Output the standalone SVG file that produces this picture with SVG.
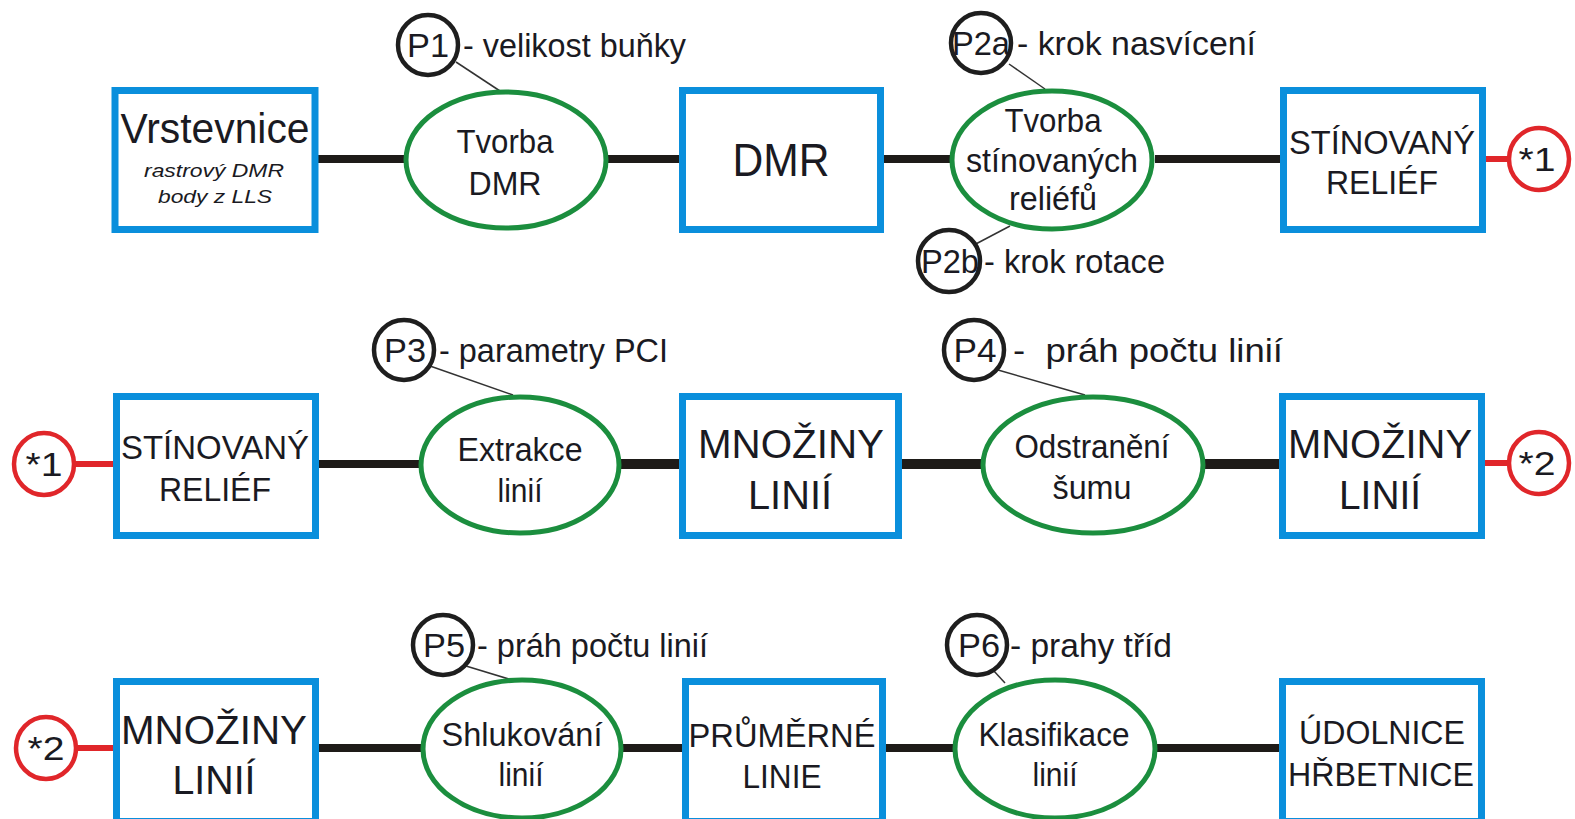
<svg xmlns="http://www.w3.org/2000/svg" width="1575" height="819" viewBox="0 0 1575 819">
<style>
.box{fill:#fff;stroke:#0a8fdc;stroke-width:7}
.proc{fill:#fff;stroke:#1b8e3e;stroke-width:5}
.par{fill:#fff;stroke:#1e1e1e;stroke-width:4.5}
.ref{fill:#fff;stroke:#e0262a;stroke-width:4.5}
.flow{stroke:#1e1b18;stroke-width:8;fill:none}
.flowb{stroke:#1e1b18;stroke-width:10;fill:none}
.lead{stroke:#333;stroke-width:1.5;fill:none}
.red{stroke:#e0262a;stroke-width:6;fill:none}
text{font-family:"Liberation Sans",Arial,sans-serif;fill:#1a1a22;text-anchor:middle}
.t46{font-size:46px}
.t42{font-size:43px}
.t40{font-size:41px}
.t34{font-size:34px}
.tc{font-size:34px}
.ti{font-size:18px;font-style:italic}
.pl{font-size:34px}
.pd{font-size:34px;text-anchor:start}
</style>
<rect width="1575" height="819" fill="#fff"/>
<g id="connectors">
<line class="flow" x1="318" y1="159" x2="404" y2="159"/>
<line class="flow" x1="606" y1="159" x2="680" y2="159"/>
<line class="flow" x1="884" y1="159" x2="951" y2="159"/>
<line class="flow" x1="1155" y1="159" x2="1281" y2="159"/>
<line class="red" x1="1486" y1="159" x2="1509" y2="159"/>
<line class="lead" x1="456" y1="62" x2="500" y2="91"/>
<line class="lead" x1="1009" y1="64" x2="1045" y2="89"/>
<line class="lead" x1="1010" y1="226" x2="972" y2="246"/>
<line class="red" x1="73" y1="464" x2="114" y2="464"/>
<line class="flow" x1="318" y1="464" x2="419" y2="464"/>
<line class="flowb" x1="620" y1="464" x2="680" y2="464"/>
<line class="flowb" x1="902" y1="464" x2="981" y2="464"/>
<line class="flowb" x1="1204" y1="464" x2="1280" y2="464"/>
<line class="red" x1="1485" y1="463" x2="1509" y2="463"/>
<line class="lead" x1="430" y1="366" x2="513" y2="395"/>
<line class="lead" x1="998" y1="370" x2="1085" y2="395"/>
<line class="red" x1="76" y1="748" x2="114" y2="748"/>
<line class="flow" x1="318" y1="748" x2="421" y2="748"/>
<line class="flow" x1="622" y1="748" x2="683" y2="748"/>
<line class="flow" x1="886" y1="748" x2="953" y2="748"/>
<line class="flow" x1="1156" y1="748" x2="1280" y2="748"/>
<line class="lead" x1="466" y1="666" x2="512" y2="680"/>
<line class="lead" x1="993" y1="670" x2="1005" y2="683"/>
</g>
<g id="n-vrstevnice">
<rect class="box" x="115" y="90.5" width="200" height="139"/>
<text class="t42" x="215" y="143" textLength="189" lengthAdjust="spacingAndGlyphs">Vrstevnice</text>
<text class="ti" x="214" y="177" textLength="140" lengthAdjust="spacingAndGlyphs">rastrový DMR</text>
<text class="ti" x="215" y="203" textLength="114" lengthAdjust="spacingAndGlyphs">body z LLS</text>
</g>
<g id="n-tvorba-dmr">
<ellipse class="proc" cx="506" cy="160" rx="100" ry="68"/>
<text class="t34" x="505" y="153" textLength="97" lengthAdjust="spacingAndGlyphs">Tvorba</text>
<text class="t34" x="505" y="195" textLength="73" lengthAdjust="spacingAndGlyphs">DMR</text>
</g>
<g id="n-p1">
<circle class="par" cx="428" cy="45" r="30"/>
<text class="pl" x="428" y="57" textLength="42" lengthAdjust="spacingAndGlyphs">P1</text>
<text class="pd" x="463" y="57" textLength="223" lengthAdjust="spacingAndGlyphs">- velikost buňky</text>
</g>
<g id="n-dmr">
<rect class="box" x="682.5" y="90.5" width="198" height="139"/>
<text class="t46" x="781" y="176" textLength="97" lengthAdjust="spacingAndGlyphs">DMR</text>
</g>
<g id="n-tvorba-stin">
<ellipse class="proc" cx="1052" cy="160" rx="100" ry="69"/>
<text class="t34" x="1053" y="132" textLength="97" lengthAdjust="spacingAndGlyphs">Tvorba</text>
<text class="t34" x="1052" y="172" textLength="172" lengthAdjust="spacingAndGlyphs">stínovaných</text>
<text class="t34" x="1053" y="210" textLength="88" lengthAdjust="spacingAndGlyphs">reliéfů</text>
</g>
<g id="n-p2a">
<circle class="par" cx="981" cy="43" r="30"/>
<text class="pl" x="981" y="55" textLength="58" lengthAdjust="spacingAndGlyphs">P2a</text>
<text class="pd" x="1017" y="55" textLength="239" lengthAdjust="spacingAndGlyphs">- krok nasvícení</text>
</g>
<g id="n-p2b">
<circle class="par" cx="949" cy="261" r="31"/>
<text class="pl" x="950" y="273" textLength="58" lengthAdjust="spacingAndGlyphs">P2b</text>
<text class="pd" x="984" y="273" textLength="181" lengthAdjust="spacingAndGlyphs">- krok rotace</text>
</g>
<g id="n-stin1">
<rect class="box" x="1283.5" y="90.5" width="199" height="139"/>
<text class="tc" x="1382" y="154" textLength="186" lengthAdjust="spacingAndGlyphs">STÍNOVANÝ</text>
<text class="tc" x="1382" y="194" textLength="112" lengthAdjust="spacingAndGlyphs">RELIÉF</text>
</g>
<g id="n-ref1a">
<ellipse class="ref" cx="1539" cy="159" rx="30" ry="31"/>
<text class="pl" x="1537" y="171" textLength="37" lengthAdjust="spacingAndGlyphs">*1</text>
</g>
<g id="n-ref1b">
<ellipse class="ref" cx="44" cy="464" rx="30" ry="31"/>
<text class="pl" x="44" y="476" textLength="37" lengthAdjust="spacingAndGlyphs">*1</text>
</g>
<g id="n-stin2">
<rect class="box" x="116.5" y="396.5" width="199" height="139"/>
<text class="tc" x="215" y="459" textLength="188" lengthAdjust="spacingAndGlyphs">STÍNOVANÝ</text>
<text class="tc" x="215" y="501" textLength="112" lengthAdjust="spacingAndGlyphs">RELIÉF</text>
</g>
<g id="n-extrakce">
<ellipse class="proc" cx="520" cy="465" rx="99" ry="68"/>
<text class="t34" x="520" y="461" textLength="125" lengthAdjust="spacingAndGlyphs">Extrakce</text>
<text class="t34" x="520" y="502" textLength="45" lengthAdjust="spacingAndGlyphs">linií</text>
</g>
<g id="n-p3">
<circle class="par" cx="404" cy="350" r="30"/>
<text class="pl" x="405" y="362" textLength="42" lengthAdjust="spacingAndGlyphs">P3</text>
<text class="pd" x="439" y="362" textLength="229" lengthAdjust="spacingAndGlyphs">- parametry PCI</text>
</g>
<g id="n-mnoziny1">
<rect class="box" x="682.5" y="396.5" width="216" height="139"/>
<text class="t40" x="791" y="458" textLength="186" lengthAdjust="spacingAndGlyphs">MNOŽINY</text>
<text class="t40" x="790" y="509" textLength="84" lengthAdjust="spacingAndGlyphs">LINIÍ</text>
</g>
<g id="n-odstraneni">
<ellipse class="proc" cx="1093" cy="465" rx="110" ry="68"/>
<text class="t34" x="1092" y="458" textLength="155" lengthAdjust="spacingAndGlyphs">Odstranění</text>
<text class="t34" x="1092" y="499" textLength="79" lengthAdjust="spacingAndGlyphs">šumu</text>
</g>
<g id="n-p4">
<circle class="par" cx="974" cy="350" r="30"/>
<text class="pl" x="975" y="362" textLength="43" lengthAdjust="spacingAndGlyphs">P4</text>
<text class="pd" x="1013" y="362" textLength="270" lengthAdjust="spacingAndGlyphs" xml:space="preserve">-  práh počtu linií</text>
</g>
<g id="n-mnoziny2">
<rect class="box" x="1282.5" y="396.5" width="199" height="139"/>
<text class="t40" x="1380" y="458" textLength="184" lengthAdjust="spacingAndGlyphs">MNOŽINY</text>
<text class="t40" x="1380" y="509" textLength="82" lengthAdjust="spacingAndGlyphs">LINIÍ</text>
</g>
<g id="n-ref2a">
<ellipse class="ref" cx="1539" cy="463" rx="30" ry="31"/>
<text class="pl" x="1537" y="475" textLength="37" lengthAdjust="spacingAndGlyphs">*2</text>
</g>
<g id="n-ref2b">
<ellipse class="ref" cx="46" cy="748" rx="30" ry="31"/>
<text class="pl" x="46" y="760" textLength="37" lengthAdjust="spacingAndGlyphs">*2</text>
</g>
<g id="n-mnoziny3">
<rect class="box" x="116.5" y="681.5" width="199" height="140"/>
<text class="t40" x="214" y="744" textLength="186" lengthAdjust="spacingAndGlyphs">MNOŽINY</text>
<text class="t40" x="214" y="794" textLength="83" lengthAdjust="spacingAndGlyphs">LINIÍ</text>
</g>
<g id="n-shlukovani">
<ellipse class="proc" cx="522" cy="749" rx="99" ry="69"/>
<text class="t34" x="522" y="746" textLength="161" lengthAdjust="spacingAndGlyphs">Shlukování</text>
<text class="t34" x="521" y="786" textLength="45" lengthAdjust="spacingAndGlyphs">linií</text>
</g>
<g id="n-p5">
<circle class="par" cx="443" cy="645" r="30"/>
<text class="pl" x="444" y="657" textLength="42" lengthAdjust="spacingAndGlyphs">P5</text>
<text class="pd" x="477" y="657" textLength="231" lengthAdjust="spacingAndGlyphs">- práh počtu linií</text>
</g>
<g id="n-prumerne">
<rect class="box" x="685.5" y="681.5" width="197" height="140"/>
<text class="tc" x="782" y="747" textLength="187" lengthAdjust="spacingAndGlyphs">PRŮMĚRNÉ</text>
<text class="tc" x="782" y="788" textLength="79" lengthAdjust="spacingAndGlyphs">LINIE</text>
</g>
<g id="n-klasifikace">
<ellipse class="proc" cx="1055" cy="749" rx="100" ry="69"/>
<text class="t34" x="1054" y="746" textLength="151" lengthAdjust="spacingAndGlyphs">Klasifikace</text>
<text class="t34" x="1055" y="786" textLength="45" lengthAdjust="spacingAndGlyphs">linií</text>
</g>
<g id="n-p6">
<circle class="par" cx="977" cy="645" r="30"/>
<text class="pl" x="979" y="657" textLength="42" lengthAdjust="spacingAndGlyphs">P6</text>
<text class="pd" x="1010" y="657" textLength="162" lengthAdjust="spacingAndGlyphs">- prahy tříd</text>
</g>
<g id="n-udolnice">
<rect class="box" x="1282.5" y="681.5" width="199" height="140"/>
<text class="tc" x="1382" y="744" textLength="166" lengthAdjust="spacingAndGlyphs">ÚDOLNICE</text>
<text class="tc" x="1381" y="786" textLength="186" lengthAdjust="spacingAndGlyphs">HŘBETNICE</text>
</g>
</svg>
